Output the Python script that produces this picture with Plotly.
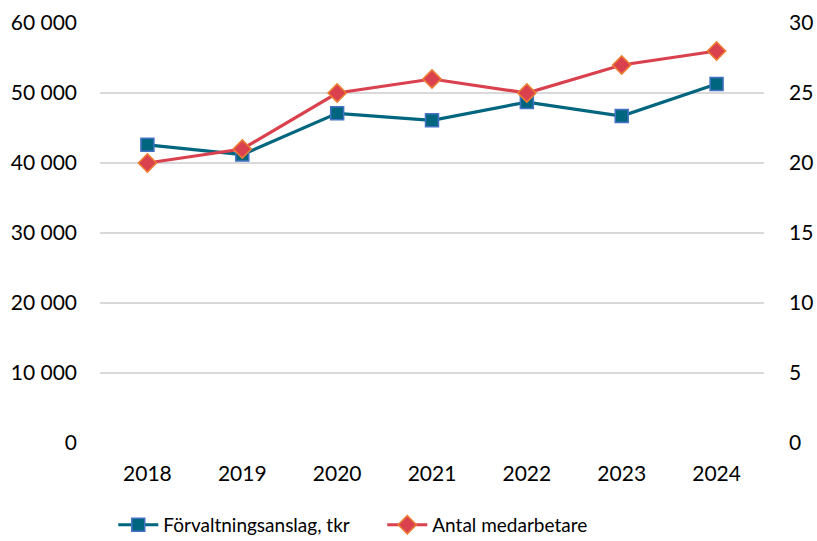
import plotly.graph_objects as go

years = ["2018", "2019", "2020", "2021", "2022", "2023", "2024"]
anslag = [42600, 41200, 47100, 46100, 48700, 46700, 51300]
medarbetare = [20, 21, 25, 26, 25, 27, 28]
left_ticks = [0, 10000, 20000, 30000, 40000, 50000, 60000]
left_labels = ["0", "10 000", "20 000", "30 000", "40 000", "50 000", "60 000"]
right_ticks = [0, 5, 10, 15, 20, 25, 30]

FONT = "Lato, Open Sans, sans-serif"

fig = go.Figure()
fig.add_trace(go.Scatter(
    x=years, y=anslag, name="Förvaltningsanslag, tkr", mode="lines+markers",
    line=dict(color="#00667F", width=3.2),
    marker=dict(symbol="square", size=13, color="#00667F",
                line=dict(color="#4472C4", width=1.5)),
    yaxis="y"))
fig.add_trace(go.Scatter(
    x=years, y=medarbetare, name="Antal medarbetare", mode="lines+markers",
    line=dict(color="#DA414E", width=3.2),
    marker=dict(symbol="diamond", size=14, color="#DA414E",
                line=dict(color="#ED7D31", width=1.5)),
    yaxis="y2"))

fig.update_layout(
    width=817, height=541,
    margin=dict(l=100, r=53, t=23, b=98, autoexpand=False),
    paper_bgcolor="white", plot_bgcolor="white",
    font=dict(family=FONT, size=21, color="#000000"),
    showlegend=True,
    legend=dict(orientation="h", x=0.02, xanchor="left", y=-0.195, yanchor="middle",
                font=dict(size=19), itemwidth=40, traceorder="normal",
                entrywidthmode="pixels", entrywidth=214),
    xaxis=dict(type="category", range=[-0.5, 6.5], showgrid=False,
               showline=False, ticks="", tickfont=dict(size=21), automargin=False,
               ticklabelstandoff=16),
    yaxis=dict(range=[0, 60000], tickvals=left_ticks, ticktext=left_labels,
               showgrid=True, gridcolor="#D9D9D9", gridwidth=1.5,
               zeroline=False, showline=False, ticks="", ticklabelstandoff=22,
               automargin=False),
    yaxis2=dict(range=[0, 30], tickvals=right_ticks, overlaying="y", side="right",
                showgrid=False, zeroline=False, showline=False, ticks="",
                ticklabelstandoff=24, automargin=False),
)

fig.write_html("out.html", config={"displayModeBar": False},
               post_script="document.body.style.margin='0';")
